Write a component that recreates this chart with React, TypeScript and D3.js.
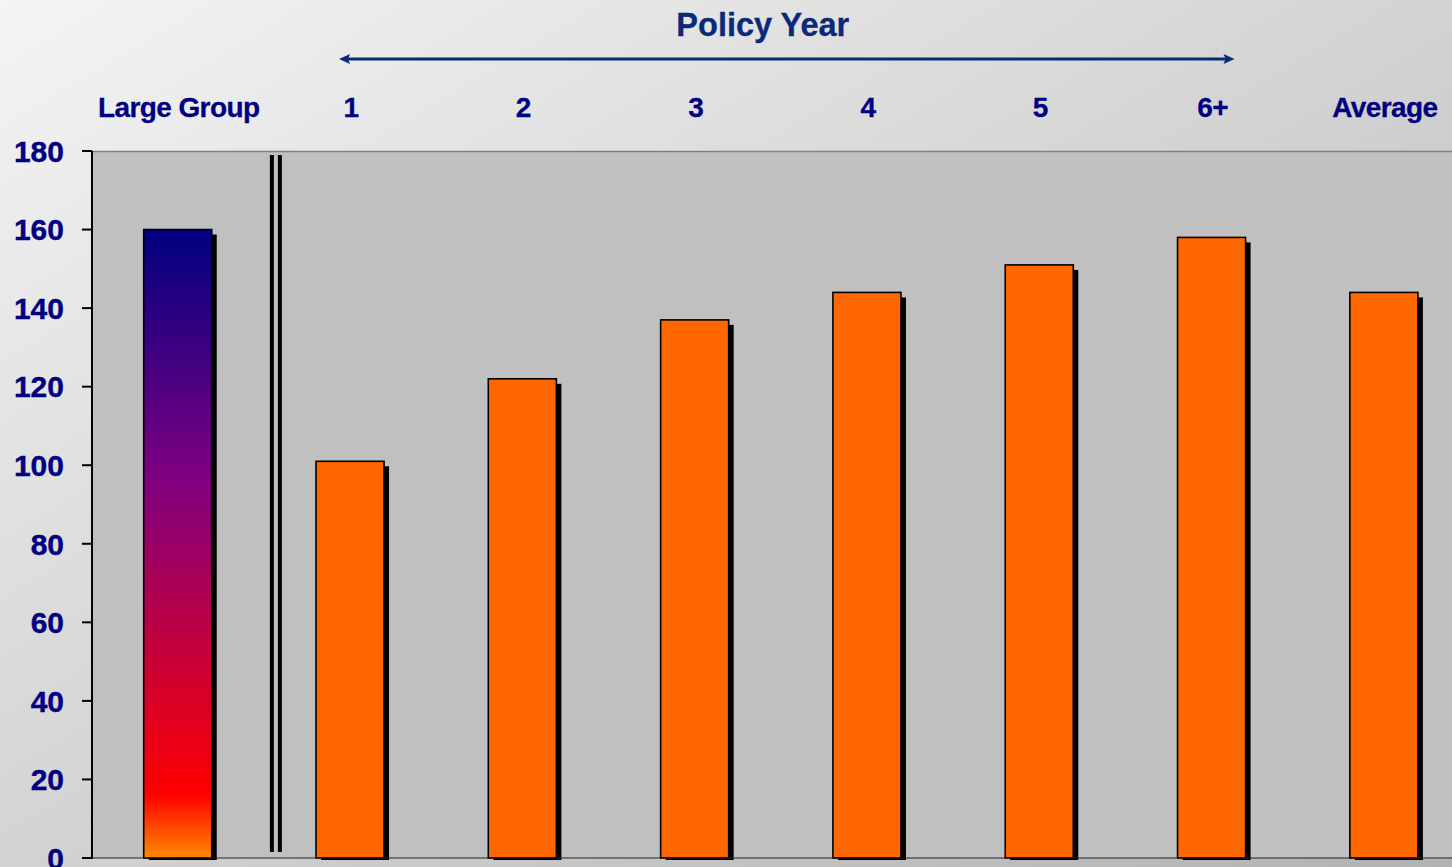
import React from "react";
import * as d3 from "d3";

const categories = ["Large Group", "1", "2", "3", "4", "5", "6+", "Average"];
const values = [160, 101, 122, 137, 144, 151, 158, 144];
const yTicks = [0, 20, 40, 60, 80, 100, 120, 140, 160, 180];
const policyYears = ["1", "2", "3", "4", "5", "6+"];

const W = 1452;
const H = 867;
const plotLeft = 92;
const plotTop = 151;
const plotBottom = 858;
const step = 172.2;
const plotRight = plotLeft + step * categories.length;

const labelColor = "#000080";
const titleColor = "#0a2a78";
const font = "'Liberation Sans', Arial, sans-serif";

export default function App() {
  const x = d3
    .scaleBand<string>()
    .domain(categories)
    .range([plotLeft, plotRight])
    .paddingInner(0.605)
    .paddingOuter(0.3);
  const y = d3.scaleLinear().domain([0, 180]).range([plotBottom, plotTop]);
  const bw = x.bandwidth();
  const shadow = 5;

  const firstYear = x(policyYears[0])! + bw / 2;
  const lastYear = x(policyYears[policyYears.length - 1])! + bw / 2;
  const arrowY = 59;
  const arrowStart = firstYear - 11;
  const arrowEnd = lastYear + 23;

  // separator between the benchmark bar and the policy-year bars
  const sepX = plotLeft + x.step() * (1 + x.paddingOuter() - x.paddingInner() / 2);

  return (
    <svg
      width={W}
      height={H}
      style={{ position: "absolute", left: 0, top: 0, display: "block" }}
    >
      <defs>
        <linearGradient id="bg" x1="0" y1="0" x2="1" y2="1">
          <stop offset="0" stopColor="#f4f4f4" />
          <stop offset="1" stopColor="#b2b2b2" />
        </linearGradient>
        <linearGradient id="lg" x1="0" y1="0" x2="0" y2="1">
          <stop offset="0" stopColor="#000080" />
          <stop offset="0.4" stopColor="#800080" />
          <stop offset="0.9" stopColor="#ff0000" />
          <stop offset="1" stopColor="#ff8a00" />
        </linearGradient>
      </defs>
      <rect x={0} y={0} width={W} height={H} fill="url(#bg)" />

      {/* plot area */}
      <rect
        x={plotLeft}
        y={plotTop}
        width={plotRight - plotLeft}
        height={plotBottom - plotTop}
        fill="#c0c0c0"
      />
      <line
        x1={plotLeft}
        x2={W}
        y1={plotTop + 0.5}
        y2={plotTop + 0.5}
        stroke="#808080"
        strokeWidth={1.5}
      />

      {/* bars with drop shadows */}
      {categories.map((c, i) => {
        const bx = x(c)!;
        const top = y(values[i]);
        return (
          <g key={c}>
            <rect
              x={bx + shadow}
              y={top + shadow}
              width={bw}
              height={plotBottom - top - shadow + 2}
              fill="#000"
            />
            <rect
              x={bx}
              y={top}
              width={bw}
              height={plotBottom - top}
              fill={i === 0 ? "url(#lg)" : "#ff6600"}
              stroke="#000"
              strokeWidth={1.6}
            />
          </g>
        );
      })}

      {/* double separator line */}
      <rect x={sepX + 6} y={155} width={4} height={697} fill="#000" />
      <rect x={sepX + 14} y={155} width={4} height={697} fill="#000" />

      {/* axes */}
      <line x1={plotLeft} x2={W} y1={plotBottom} y2={plotBottom} stroke="#222" strokeWidth={1.2} />
      <line x1={plotLeft} x2={plotLeft} y1={plotTop} y2={plotBottom + 1} stroke="#000" strokeWidth={2} />
      {yTicks.map((t) => (
        <g key={t}>
          <line x1={plotLeft - 10} x2={plotLeft} y1={y(t)} y2={y(t)} stroke="#000" strokeWidth={2} />
          <text
            x={64}
            y={y(t)}
            dy="0.36em"
            textAnchor="end"
            fontFamily={font}
            fontWeight="bold"
            fontSize={30}
            fill={labelColor}
            stroke={labelColor}
            strokeWidth={0.4}
          >
            {t}
          </text>
        </g>
      ))}

      {/* category labels above the plot */}
      {categories.map((c) => (
        <text
          key={c}
          x={x(c)! + bw / 2 + 1}
          y={117}
          textAnchor="middle"
          fontFamily={font}
          fontWeight="bold"
          fontSize={28}
          letterSpacing={-0.6}
          fill={labelColor}
          stroke={labelColor}
          strokeWidth={0.3}
        >
          {c}
        </text>
      ))}

      {/* policy year header with double-headed arrow */}
      <text
        x={(arrowStart + arrowEnd) / 2 - 24}
        y={36}
        textAnchor="middle"
        fontFamily={font}
        fontWeight="bold"
        fontSize={32.5}
        fill={titleColor}
        stroke={titleColor}
        strokeWidth={0.3}
      >
        Policy Year
      </text>
      <line x1={arrowStart + 8} x2={arrowEnd - 8} y1={arrowY} y2={arrowY} stroke={titleColor} strokeWidth={3} />
      <path
        d={`M${arrowStart},${arrowY} L${arrowStart + 11},${arrowY - 5} L${arrowStart + 9},${arrowY} L${arrowStart + 11},${arrowY + 5} Z`}
        fill={titleColor}
      />
      <path
        d={`M${arrowEnd},${arrowY} L${arrowEnd - 11},${arrowY - 5} L${arrowEnd - 9},${arrowY} L${arrowEnd - 11},${arrowY + 5} Z`}
        fill={titleColor}
      />
    </svg>
  );
}
